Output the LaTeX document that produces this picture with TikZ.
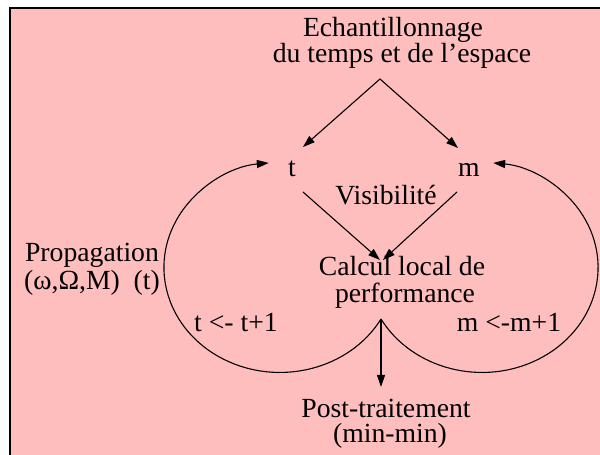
\documentclass[tikz,border=0pt]{standalone}
\usepackage{fontspec}
\setmainfont{Liberation Serif}
\usetikzlibrary{arrows.meta}
\definecolor{panelpink}{HTML}{FFBEBE}
\tikzset{
  lbl/.style={anchor=base, inner sep=0pt, font=\fontsize{27.7}{27.7}\selectfont},
  arr/.style={line width=1.1pt, -{Triangle[length=12pt,width=8pt]}},
  loop/.style={line width=1.1pt, -{Triangle[length=12pt,width=8pt]}}
}
\begin{document}
\begin{tikzpicture}[x=1pt,y=1pt]
  \useasboundingbox (0,0) rectangle (600,455);
  \clip (0,0) rectangle (600,455);
  % panel
  \fill[panelpink] (10,-10) rectangle (610,447);
  \draw[line width=1.4pt] (10,-10) |- (610,447);

  % texts
  \node[lbl] (ech1) at (393,418) {Echantillonnage};
  \node[lbl] (ech2) at (402,392) {du temps et de l'espace};
  \node[lbl] (t) at (292,278) {t};
  \node[lbl] (m) at (469,278) {m};
  \node[lbl] (vis) at (386,250) {Visibilité};
  \node[lbl] (calc1) at (402,179) {Calcul local de};
  \node[lbl] (calc2) at (405,152) {performance};
  \node[lbl] (prop1) at (92,193) {Propagation};
  \node[lbl] (prop2) at (92,165) {(ω,Ω,M)\ \ (t)};
  \node[lbl] (tinc) at (236,123) {t <- t+1};
  \node[lbl] (minc) at (509,123) {m <-m+1};
  \node[lbl] (post1) at (386,37) {Post-traitement};
  \node[lbl] (post2) at (390,12) {(min-min)};

  % connector end points
  \coordinate (apex) at (380,376);
  \coordinate (tin) at (303,308);
  \coordinate (min) at (458,307);
  \coordinate (tout) at (303,263);
  \coordinate (mout) at (457,263);
  \coordinate (calcL) at (380,195);
  \coordinate (calcR) at (383,195);
  \coordinate (cusp) at (381,136);
  \coordinate (postin) at (381,68);

  % sampling splits into t and m
  \draw[arr] (apex) -- (tin);
  \draw[arr] (apex) -- (min);
  % t and m feed the local computation
  \draw[arr] (tout) -- (calcL);
  \draw[arr] (mout) -- (calcR);
  % post-processing
  \draw[arr] (cusp) -- (postin);
  % iteration loops
  \draw[loop] (cusp) arc[start angle=-29.4, end angle=-264.5, x radius=116pt, y radius=105pt];
  \draw[loop] (cusp) arc[start angle=209.4, end angle=444.5, x radius=116pt, y radius=105pt];
\end{tikzpicture}
\end{document}
